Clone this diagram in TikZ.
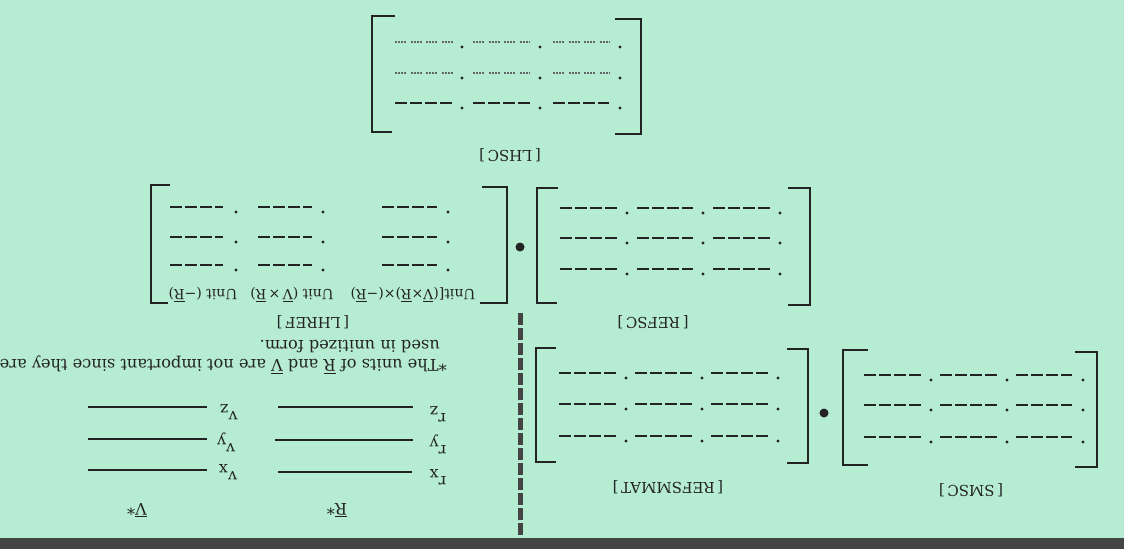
\documentclass[tikz,border=0pt]{standalone}
\usepackage{fontspec}
\setmainfont{DejaVu Serif}
\definecolor{bg}{RGB}{182,236,210}
\definecolor{ink}{RGB}{35,35,35}
\definecolor{strip}{RGB}{68,68,68}
\newcommand{\mtxrows}[3]{%
  \foreach \mY in {#1}{%
    \foreach \mA/\mB/\mD in {#2}{%
      \draw[#3] (\mA,\mY) -- (\mB,\mY);
      \fill[ink] (\mD,\mY+5) circle (1.7pt);
    }%
  }%
}
\newcommand{\ovl}[1]{\(\overline{\hbox{#1}}\)}
\begin{document}
\begin{tikzpicture}[x=1pt,y=-1pt,
  brk/.style={ink, line width=1.8pt},
  dashrow/.style={ink, line width=2pt, dash pattern=on 11.5pt off 3.5pt},
  finerow/.style={ink!70, line width=1.3pt, dash pattern=on 2pt off 1pt on 2pt off 1pt on 2pt off 1pt on 2pt off 4.5pt},
  lbl/.style={rotate=180, font=\fontsize{15}{17}\selectfont, text=ink, inner sep=0pt},
  unitlbl/.style={rotate=180, font=\fontsize{14}{16}\selectfont, text=ink, inner sep=0pt},
  comp/.style={rotate=180, font=\fontsize{16}{18}\selectfont, text=ink, inner sep=0pt},
  note/.style={rotate=180, font=\fontsize{16.2}{18}\selectfont, text=ink, inner sep=0pt, anchor=base west},
  blank/.style={ink, line width=1.6pt},
  bullet/.style={circle, fill=ink, inner sep=0pt, minimum size=9pt}]
\useasboundingbox (0,0) rectangle (1124,549);
\clip (0,0) rectangle (1124,549);
\fill[bg] (0,0) rectangle (1124,549);
\fill[strip] (0,538) rectangle (1124,549);

% [LHSC]
\draw[brk] (395,16) -- (372,16) -- (372,132) -- (392,132);
\draw[brk] (615,19) -- (641,19) -- (641,134) -- (615,134);
\mtxrows{42,73}{395/453/462,473/530/540,553/609/620}{finerow}
\mtxrows{103}{395/453/462,473/530/540,553/609/620}{dashrow}
\node[lbl] (lhsc) at (510,155) {[\,LHSC\,]};

% [LHREF]
\draw[brk] (170,185) -- (151,185) -- (151,303) -- (168,303);
\draw[brk] (482,187) -- (507,187) -- (507,303) -- (480,303);
\mtxrows{207,237,265}{170/223/236,258/312/323,382/437/448}{dashrow}
\node[unitlbl] (u1) at (413,295) {Unit[(\ovl{V}×\ovl{R})×(−\ovl{R})};
\node[unitlbl] (u2) at (292,295) {Unit (\ovl{V}\,×\,\ovl{R})};
\node[unitlbl] (u3) at (203,295) {Unit (−\ovl{R})};
\node[lbl] (lhref) at (313,322) {[\,LHREF\,]};

\node[bullet] (b1) at (520,247) {};

% [REFSC]
\draw[brk] (558,188) -- (537,188) -- (537,303) -- (557,303);
\draw[brk] (788,188) -- (810,188) -- (810,305) -- (788,305);
\mtxrows{208,238,269}{560/617/627,637/693/703,713/770/780}{dashrow}
\node[lbl] (refsc) at (653,322) {[\,REFSC\,]};

% [REFSMMAT]
\draw[brk] (556,348) -- (536,348) -- (536,462) -- (556,462);
\draw[brk] (787,349) -- (808,349) -- (808,463) -- (787,463);
\mtxrows{373,404,436}{559/617/626,635/692/702,711/768/778}{dashrow}
\node[lbl] (refsmmat) at (668,487) {[\,REFSMMAT\,]};

\node[bullet] (b2) at (824,413) {};

% [SMSC]
\draw[brk] (868,350) -- (843,350) -- (843,465) -- (868,465);
\draw[brk] (1075,352) -- (1097,352) -- (1097,467) -- (1075,467);
\mtxrows{375,405,437}{864/921/931,940/997/1007,1016/1072/1083}{dashrow}
\node[lbl] (smsc) at (971,490) {[\,SMSC\,]};

% divider
\draw[strip, line width=5pt, dash pattern=on 12pt off 3pt] (520,313) -- (520,540);

% R vector
\node[comp] (rz) at (438,414) {r\raisebox{-7pt}{z}};
\node[comp] (ry) at (438,444) {r\raisebox{-7pt}{y}};
\node[comp] (rx) at (438,477) {r\raisebox{-7pt}{x}};
\coordinate (rze) at (278,407);
\coordinate (rye) at (275,440);
\coordinate (rxe) at (278,472);
\draw[blank] (rze) -- (rze -| 413,0);
\draw[blank] (rye) -- (rye -| 413,0);
\draw[blank] (rxe) -- (rxe -| 412,0);
\node[comp] (rbar) at (337,510) {\ovl{R}*};

% V vector
\node[comp] (vz) at (229,412) {v\raisebox{-7pt}{z}};
\node[comp] (vy) at (226,442) {v\raisebox{-7pt}{y}};
\node[comp] (vx) at (228,472) {v\raisebox{-7pt}{x}};
\coordinate (vze) at (88,407);
\coordinate (vye) at (88,439);
\coordinate (vxe) at (88,470);
\draw[blank] (vze) -- (vze -| 207,0);
\draw[blank] (vye) -- (vye -| 207,0);
\draw[blank] (vxe) -- (vxe -| 207,0);
\node[comp] (vbar) at (137,510) {\ovl{V}*};

% footnote
\node[note] (fn1) at (447,359.5) {*The units of \ovl{R} and \ovl{V} are not important since they are};
\node[note] (fn2) at (440,340.5) {used in unitized form.};
\end{tikzpicture}
\end{document}
